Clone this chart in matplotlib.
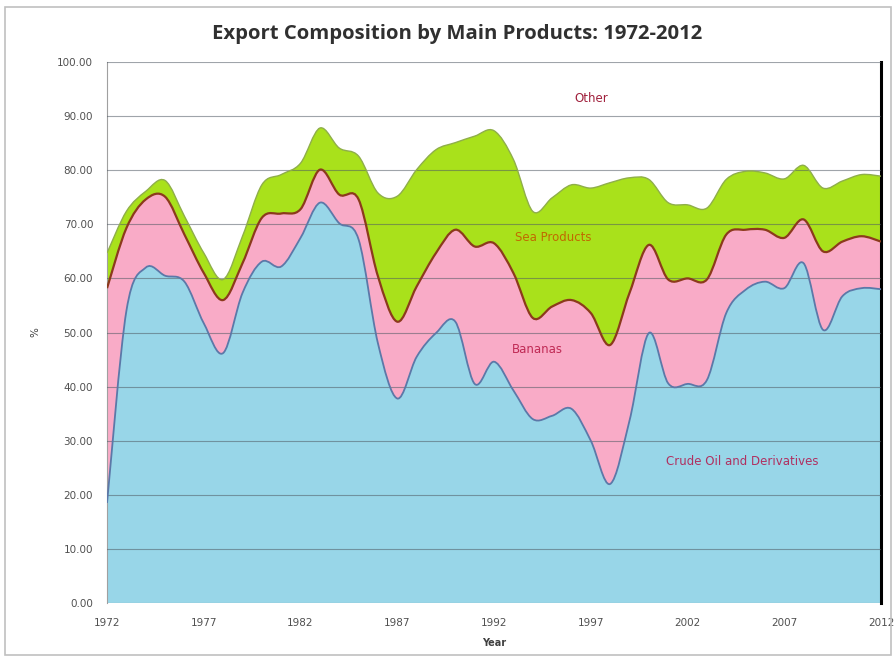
#!/usr/bin/env python3

import numpy as np
import matplotlib
matplotlib.use('Agg')
import matplotlib.pyplot as plt
from matplotlib.path import Path
from matplotlib.patches import PathPatch, Rectangle

years = list(range(1972, 2013))

# shares of total exports, %
crude_oil = [18.5, 54.0, 62.0, 60.5, 59.4, 51.7, 46.2, 57.3, 63.1, 62.2,
             67.5, 74.0, 70.2, 67.2, 48.0, 37.8, 45.5, 49.9, 52.0, 40.5,
             44.6, 39.3, 34.0, 34.6, 35.9, 30.0, 22.0, 33.7, 49.9, 40.6,
             40.5, 41.2, 53.6, 57.9, 59.4, 58.2, 62.8, 50.5, 56.7, 58.2,
             58.0]
bananas = [39.7, 15.3, 12.6, 14.6, 8.7, 9.3, 9.8, 5.5, 8.1, 9.8,
           5.3, 6.1, 5.3, 7.4, 12.4, 14.2, 13.0, 14.8, 17.0, 25.4,
           21.9, 21.7, 18.7, 20.2, 20.1, 23.6, 25.7, 23.6, 16.3, 19.2,
           19.5, 18.6, 14.5, 11.1, 9.6, 9.3, 8.1, 14.5, 10.1, 9.6,
           8.8]
sea_products = [6.5, 3.1, 1.5, 3.0, 3.4, 3.7, 3.8, 5.0, 6.1, 7.2,
                8.5, 7.7, 8.6, 8.0, 15.4, 23.2, 21.6, 19.1, 16.1, 20.4,
                20.8, 21.0, 19.7, 20.1, 21.3, 23.1, 30.0, 21.3, 12.1, 14.2,
                13.6, 13.2, 10.2, 10.8, 10.5, 10.9, 10.0, 11.7, 11.2, 11.4,
                12.1]

x_ticks = [1972, 1977, 1982, 1987, 1992, 1997, 2002, 2007, 2012]


def bezier(xs, ys):
    # Excel-style smoothed line as cubic bezier segments
    n = len(xs)
    verts = [(xs[0], ys[0])]
    codes = [Path.MOVETO]
    for i in range(n - 1):
        i0 = max(i - 1, 0)
        i3 = min(i + 2, n - 1)
        c1 = (xs[i] + (xs[i + 1] - xs[i0]) / 6.0, ys[i] + (ys[i + 1] - ys[i0]) / 6.0)
        c2 = (xs[i + 1] - (xs[i3] - xs[i]) / 6.0, ys[i + 1] - (ys[i3] - ys[i]) / 6.0)
        verts += [c1, c2, (xs[i + 1], ys[i + 1])]
        codes += [Path.CURVE4] * 3
    return verts, codes


def band(xs, lower, upper):
    v1, c1 = bezier(xs, upper)
    if lower is None:
        v2 = [(xs[-1], 0.0), (xs[0], 0.0)]
        c2 = [Path.LINETO, Path.LINETO]
    else:
        v2, c2 = bezier(xs[::-1], lower[::-1])
        c2 = [Path.LINETO] + c2[1:]
    return Path(v1 + v2 + [v1[0]], c1 + c2 + [Path.CLOSEPOLY])


x = np.array(years, dtype=float)
top_oil = np.array(crude_oil)
top_ban = top_oil + np.array(bananas)
top_sea = top_ban + np.array(sea_products)

fig = plt.figure(figsize=(8.95, 6.6), dpi=100)
ax = fig.add_axes([0.1196, 0.0864, 0.8648, 0.8196])

ax.add_patch(PathPatch(band(x, top_ban, top_sea), facecolor='#a9e11b', edgecolor='none', zorder=1))
ax.add_patch(PathPatch(band(x, top_oil, top_ban), facecolor='#f9abc7', edgecolor='none', zorder=1))
ax.add_patch(PathPatch(band(x, None, top_oil), facecolor='#98d6e8', edgecolor='none', zorder=1))

for vals, col, lw in [(top_sea, '#8fae4a', 1.0), (top_ban, '#8c3a1c', 1.6), (top_oil, '#5c78a8', 1.3)]:
    v, c = bezier(x, vals)
    ax.add_patch(PathPatch(Path(v, c), facecolor='none', edgecolor=col, lw=lw, zorder=3))

ax.set_xlim(1972, 2012)
ax.set_ylim(0, 100)
ax.set_xticks(x_ticks)
ax.set_xticklabels([str(t) for t in x_ticks])
ax.set_yticks(np.arange(0, 101, 10))
ax.set_yticklabels(['%.2f' % v for v in np.arange(0, 101, 10)])
ax.tick_params(length=0, labelsize=7.5, colors='#505050')
ax.tick_params(axis='y', pad=10)
ax.tick_params(axis='x', pad=11)
ax.yaxis.grid(True, color='#505a64', lw=0.8, alpha=0.55, zorder=2)
ax.set_axisbelow(False)

for side in ['top', 'bottom']:
    ax.spines[side].set_visible(False)
ax.spines['left'].set_color('#a0a0a0')
ax.spines['left'].set_linewidth(0.8)
ax.spines['right'].set_color('black')
ax.spines['right'].set_linewidth(2.2)

ax.set_ylabel('%', fontsize=7.5, color='#404040', labelpad=12)
ax.set_xlabel('Year', fontsize=7, fontweight='bold', color='#404040', labelpad=7)

fig.text(0.511, 0.948, 'Export Composition by Main Products: 1972-2012',
         ha='center', va='center', fontsize=14.6, fontweight='bold',
         family='Open Sans', color='#303030')

ax.text(1997.0, 93.3, 'Other', fontsize=8.5, color='#a0203c', ha='center', va='center', zorder=4)
ax.text(1995.07, 67.6, 'Sea Products', fontsize=8.5, color='#c06a00', ha='center', va='center', zorder=4)
ax.text(1994.25, 46.9, 'Bananas', fontsize=8.5, color='#c02a55', ha='center', va='center', zorder=4)
ax.text(2004.85, 26.1, 'Crude Oil and Derivatives', fontsize=8.5, color='#b03060',
        ha='center', va='center', zorder=4)

fig.patches.append(Rectangle((0.006, 0.008), 0.99, 0.982, transform=fig.transFigure,
                             fill=False, edgecolor='#c0c0c0', lw=1.2))

fig.savefig('out.png', dpi=100)
